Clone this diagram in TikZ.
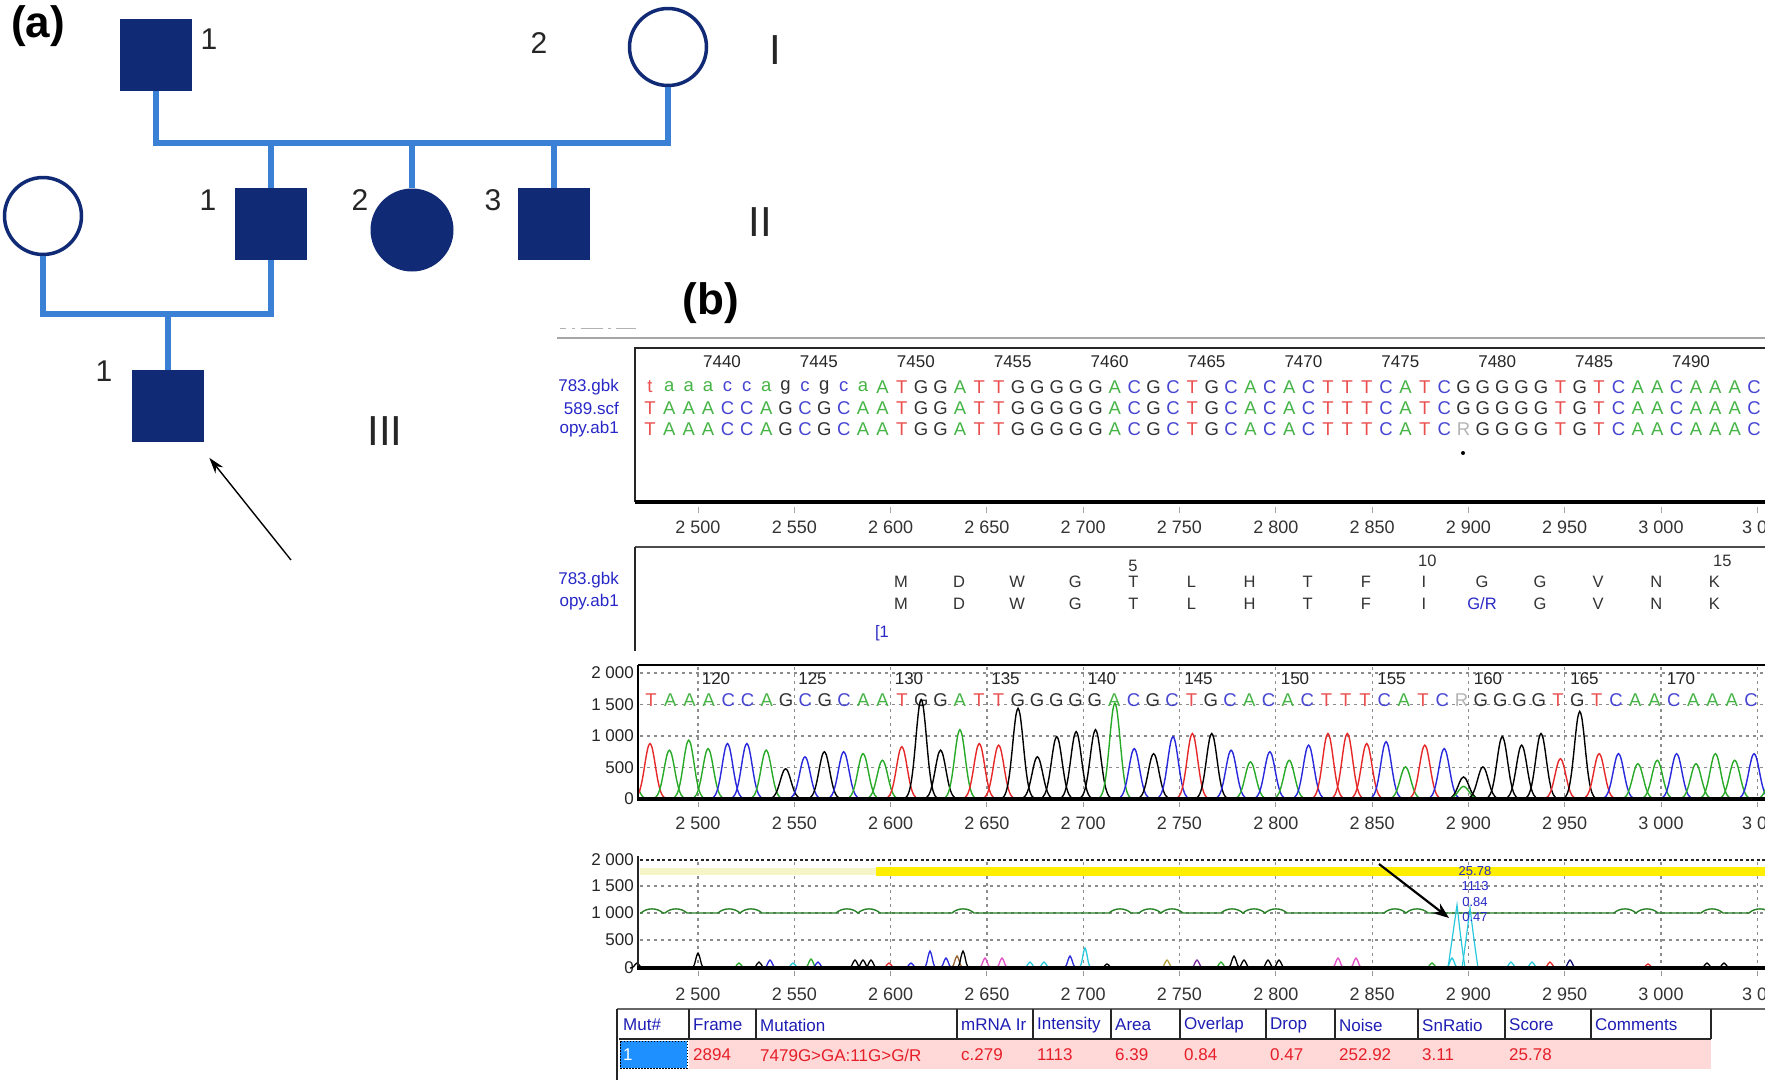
\documentclass[tikz,border=0pt]{standalone}
\usepackage{fontspec}
\setmainfont{Liberation Sans}
\usetikzlibrary{arrows.meta}
\definecolor{navy}{RGB}{16,42,118}
\definecolor{pedline}{RGB}{58,128,212}
\definecolor{col-A}{RGB}{70,180,70}
\colorlet{col-a}{col-A}
\definecolor{col-C}{RGB}{70,70,210}
\colorlet{col-c}{col-C}
\definecolor{col-G}{RGB}{50,50,50}
\colorlet{col-g}{col-G}
\definecolor{col-T}{RGB}{235,80,80}
\colorlet{col-t}{col-T}
\definecolor{col-R}{RGB}{180,180,180}
\definecolor{trA}{RGB}{40,170,40}
\definecolor{trC}{RGB}{40,40,220}
\definecolor{trG}{RGB}{0,0,0}
\definecolor{trT}{RGB}{230,40,40}
\definecolor{lblue}{RGB}{40,40,200}
\definecolor{hdrblue}{RGB}{30,30,180}
\definecolor{datared}{RGB}{230,30,40}
\definecolor{pinkrow}{RGB}{255,216,216}
\definecolor{selblue}{RGB}{30,144,255}
\definecolor{yelbar}{RGB}{255,238,0}
\definecolor{paleyel}{RGB}{245,245,200}
\definecolor{gline}{RGB}{40,130,40}
\definecolor{cyanp}{RGB}{40,200,220}
\definecolor{brn}{RGB}{150,100,50}
\definecolor{mag}{RGB}{225,80,200}
\definecolor{pur}{RGB}{120,40,160}
\definecolor{oliv}{RGB}{180,160,60}
\definecolor{nav}{RGB}{20,20,120}
\tikzset{
 sq/.style={rectangle, fill=navy, minimum size=72pt, inner sep=0},
 fcirc/.style={circle, fill=navy, minimum size=83pt, inner sep=0},
 ocirc/.style={circle, draw=navy, line width=3.5pt, fill=white, minimum size=77pt, inner sep=0},
 pline/.style={pedline, line width=6pt},
 pnum/.style={font=\fontsize{30}{30}\selectfont, text=black!85, inner sep=0},
 gen/.style={font=\fontsize{42}{42}\selectfont, text=black!85, inner sep=0},
 plabel/.style={font=\fontsize{44}{44}\selectfont\bfseries, inner sep=0},
 seq/.style={font=\fontsize{18.5}{18.5}\selectfont, inner sep=0},
 posn/.style={font=\fontsize{17}{17}\selectfont, inner sep=0, text=black!85},
 rowlab/.style={font=\fontsize{17}{17}\selectfont, inner sep=0, text=lblue, anchor=east},
 axlab/.style={font=\fontsize{18}{18}\selectfont, inner sep=0, text=black!80},
 aa/.style={font=\fontsize{16.5}{16.5}\selectfont, inner sep=0, text=black!80},
 ylab/.style={font=\fontsize{17}{17}\selectfont, inner sep=0, anchor=east, text=black!85},
 hdr/.style={font=\fontsize{17}{17}\selectfont, inner sep=0, anchor=west, text=hdrblue},
 dat/.style={font=\fontsize{17}{17}\selectfont, inner sep=0, anchor=west, text=datared},
 gridl/.style={black!45, line width=1.2pt, dash pattern=on 3pt off 4pt},
 val/.style={font=\fontsize{13}{13}\selectfont, inner sep=0, text=lblue},
}
\def\myseqA{t,a,a,a,c,c,a,g,c,g,c,a,A,T,G,G,A,T,T,G,G,G,G,G,A,C,G,C,T,G,C,A,C,A,C,T,T,T,C,A,T,C,G,G,G,G,G,T,G,T,C,A,A,C,A,A,A,C}
\def\myseqB{T,A,A,A,C,C,A,G,C,G,C,A,A,T,G,G,A,T,T,G,G,G,G,G,A,C,G,C,T,G,C,A,C,A,C,T,T,T,C,A,T,C,G,G,G,G,G,T,G,T,C,A,A,C,A,A,A,C}
\def\myseqC{T,A,A,A,C,C,A,G,C,G,C,A,A,T,G,G,A,T,T,G,G,G,G,G,A,C,G,C,T,G,C,A,C,A,C,T,T,T,C,A,T,C,R,G,G,G,G,T,G,T,C,A,A,C,A,A,A,C}
\def\mypeaks{-1/500/A,0/880/T,1/775/A,2/935/A,3/800/A,4/880/C,5/880/C,6/775/A,7/480/G,8/670/C,9/750/G,10/750/C,11/720/A,12/615/A,13/830/T,14/1580/G,15/775/G,16/1100/A,17/880/T,18/855/T,19/1440/G,20/670/G,21/990/G,22/1070/G,23/1100/G,24/1520/A,25/800/C,26/720/G,27/990/C,28/1040/T,29/1040/G,30/775/C,31/590/A,32/750/C,33/615/A,34/855/C,35/1040/T,36/1040/T,37/880/T,38/910/C,39/510/A,40/855/T,41/800/C,42/350/G,42/200/A,43/510/G,44/990/G,45/855/G,46/1040/G,47/640/T,48/1390/G,49/720/T,50/720/C,51/560/A,52/615/A,53/720/C,54/560/A,55/720/A,56/615/A,57/720/C,58/500/A}
\def\mynoise{637/5/black,698/15/black,739/5/trA,759/6/black,770/8/trC,793/5/cyanp,811/9/trA,818/6/trC,855/8/black,863/8/black,871/8/black,889/5/trT,911/5/trC,930/17/trC,946/10/trC,957/12/brn,963/17/black,985/10/mag,1002/10/mag,1030/6/cyanp,1044/6/cyanp,1070/12/trC,1085/20/cyanp,1107/4/black,1167/8/oliv,1197/8/pur,1221/6/trA,1234/12/black,1244/8/black,1268/8/black,1279/8/black,1338/10/mag,1356/10/mag,1432/5/trA,1452/10/cyanp,1511/6/cyanp,1532/6/cyanp,1550/6/trT,1570/8/nav,1648/4/trT,1707/5/black,1724/5/black}
\begin{document}
\begin{tikzpicture}[x=1pt,y=-1pt]
\useasboundingbox (0,0) rectangle (1765,1080);
\fill[white] (0,0) rectangle (1765,1080);
% ---------------- pedigree (a)
\node[sq] (I1) at (156,55) {};
\node[ocirc] (I2) at (668,47) {};
\node[sq] (II1) at (271,224) {};
\node[fcirc] (II2) at (412,230) {};
\node[sq] (II3) at (554,224) {};
\node[ocirc] (IIw) at (43,216) {};
\node[sq] (III1) at (168,406) {};
\coordinate (m1) at (411,143);
\coordinate (m2) at (168,314);
\draw[pline] (I1.south) |- (m1) -| (I2.south);
\foreach \n in {II1,II2,II3} \draw[pline] (\n.north |- m1) -- (\n.north);
\draw[pline] (IIw.south) |- (m2) -| (II1.south);
\draw[pline] (m2) -- (III1.north);
\coordinate (arrtail) at (291,560);
\draw[line width=1.4pt, -{Stealth[length=16pt,width=10pt]}, shorten >=20pt] (arrtail) -- (III1);
\node[pnum] (nI1) at (209,39) {1};
\node[pnum] (nI2) at (539,43) {2};
\node[gen] (gI) at (775,50) {I};
\node[pnum] (nII1) at (208,200) {1};
\node[pnum] (nII2) at (360,200) {2};
\node[pnum] (nII3) at (493,200) {3};
\node[gen] (gII) at (760,222) {II};
\node[pnum] (nIII1) at (104,371) {1};
\node[gen] (gIII) at (385,431) {III};
\node[plabel] (la) at (38,26) {(a)};
\node[plabel] (lb) at (711,303) {(b)};
% ---------------- panel (b) header lines
\draw[black!30, line width=1pt] (560,328) -- (566,328) (572,328) -- (575,328) (581,328) -- (603,328) (608,328) -- (611,328) (616,328) -- (636,328);
\draw[black!35, line width=1.8pt] (557,338) -- (1765,338);
% ---------------- panel 1: alignment
\draw[black!85, line width=1.8pt] (1765,348) -- (635,348) -- (635,502);
\draw[black, line width=3.5pt] (635,502) -- (1765,502);
\foreach \k [evaluate=\k as \v using {int(7440+5*\k)}] in {0,...,10}
  \node[posn] at ({722+96.9*\k},362) {\v};
\node[rowlab] (r1) at (619,387) {783.gbk};
\node[rowlab] (r2) at (619,408) {589.scf};
\node[rowlab] (r3) at (619,429) {opy.ab1};
\foreach \c [count=\i from 0] in \myseqA \node[seq, text=col-\c] at ({650+19.37*\i},387) {\c};
\foreach \c [count=\i from 0] in \myseqB \node[seq, text=col-\c] at ({650+19.37*\i},408) {\c};
\foreach \c [count=\i from 0] in \myseqC \node[seq, text=col-\c] at ({650+19.37*\i},429) {\c};
\fill[black] (1463,453) circle (2pt);
\foreach \k in {0,...,11} \draw[black!35, line width=1pt] ({698+96.3*\k},507) -- ++(0,6);
\foreach \t [count=\k from 0] in {2 500,2 550,2 600,2 650,2 700,2 750,2 800,2 850,2 900,2 950,3 000}
  \node[axlab] at ({698+96.3*\k},527) {\t};
\node[axlab, anchor=west] at (1742,527) {3 0};
% ---------------- panel 2: protein
\draw[black!70, line width=2.5pt] (635,547) -- (1765,547);
\draw[black!85, line width=1.8pt] (635,547) -- (635,651);
\node[rowlab] (p1) at (619,580) {783.gbk};
\node[rowlab] (p2) at (619,602) {opy.ab1};
\foreach \a [count=\i from 0] in {M,D,W,G,T,L,H,T,F,I,G,G,V,N,K}
  \node[aa] at ({901+58.1*\i},582) {\a};
\foreach \a [count=\i from 0] in {M,D,W,G,T,L,H,T,F,I,{},G,V,N,K}
  \node[aa] at ({901+58.1*\i},604) {\a};
\node[aa, text=lblue] at (1482,604) {G/R};
\node[aa] at (1133,566) {5};
\node[aa, anchor=west] at (1418,561) {10};
\node[aa, anchor=west] at (1713,561) {15};
\node[aa, text=lblue] at (882,633) {[1};
% ---------------- panel 3: chromatogram
\foreach \yy in {673,704.5,736,767.5} \draw[gridl] (640,\yy) -- (1765,\yy);
\foreach \k in {0,...,11} \draw[gridl] ({698+96.3*\k},667) -- ({698+96.3*\k},798);
\foreach \t/\yy in {2 000/673,1 500/704.5,1 000/736,500/767.5,0/799} \node[ylab] at (634,\yy) {\t};
\foreach \k [evaluate=\k as \v using {int(120+5*\k)}] in {0,...,10}
  \node[posn] at ({716+96.5*\k},679) {\v};
\foreach \c [count=\i from 0] in \myseqC \node[seq, text=col-\c] at ({651+19.3*\i},700) {\c};
\begin{scope}
\clip (639,660) rectangle (1765,800);
\foreach \i/\h/\c in \mypeaks
  \draw[color=tr\c, line width=1.4pt] plot[smooth, domain=-16:16, samples=17] ({650+19.37*\i+\x},{799-\h*0.063*exp(-((\x)/7.5)*((\x)/7.5))});
\end{scope}
\draw[black, line width=1.8pt] (638,665) -- (1765,665);
\draw[black, line width=1.8pt] (638,665) -- (638,800);
\draw[black, line width=3.5pt] (637,799) -- (1765,799);
\foreach \k in {0,...,11} \draw[black!40, line width=1pt] ({698+96.3*\k},802) -- ++(0,5);
\foreach \t [count=\k from 0] in {2 500,2 550,2 600,2 650,2 700,2 750,2 800,2 850,2 900,2 950,3 000}
  \node[axlab] at ({698+96.3*\k},823) {\t};
\node[axlab, anchor=west] at (1742,823) {3 0};
% ---------------- panel 4: mutation analysis
\foreach \yy in {886,913,940} \draw[gridl] (640,\yy) -- (1765,\yy);
\foreach \k in {0,...,11} \draw[gridl] ({698+96.3*\k},862) -- ({698+96.3*\k},966);
\draw[black!85, line width=2pt, dash pattern=on 3pt off 2.5pt] (640,860) -- (1765,860);
\fill[paleyel] (640,868) rectangle (876,875);
\fill[yelbar] (876,867) rectangle (1765,876);
\draw[gline, line width=1.4pt] (640,913)
  \foreach \c in {652,676,729,751,847,869,963,1120,1150,1172,1232,1254,1276,1395,1417,1625,1647,1712,1760} {
    -- (\c-11,913) .. controls (\c-5,907.5) and (\c+5,907.5) .. (\c+11,913) } ;
\foreach \t/\yy in {2 000/860,1 500/886,1 000/913,500/940,0/968} \node[ylab] at (634,\yy) {\t};
\foreach \xx/\h/\c in \mynoise
  \draw[color=\c, line width=1.3pt] plot[smooth, domain=-7:7, samples=9] ({\xx+\x},{968-\h*exp(-((\x)/3)*((\x)/3))});
\draw[cyanp, line width=1.2pt] (1448,968) .. controls (1452,940) .. (1457,905) .. controls (1461,940) .. (1465,968);
\draw[cyanp, line width=1.2pt] (1462,968) .. controls (1466,940) .. (1470,908) .. controls (1474,940) .. (1478,968);
\node[val] (v1) at (1475,871) {25.78};
\node[val] (v2) at (1475,886) {1113};
\node[val] (v3) at (1475,902) {0.84};
\node[val] (v4) at (1475,917) {0.47};
\coordinate (atail) at (1379,864);
\coordinate (ahead) at (1449,918);
\draw[black, line width=2.2pt, -{Stealth[length=16pt,width=12pt]}] (atail) -- (ahead);
\draw[black!85, line width=1.8pt] (638,856) -- (638,969);
\draw[black, line width=3.5pt] (637,968) -- (1765,968);
\foreach \k in {0,...,11} \draw[black!40, line width=1pt] ({698+96.3*\k},971) -- ++(0,5);
\foreach \t [count=\k from 0] in {2 500,2 550,2 600,2 650,2 700,2 750,2 800,2 850,2 900,2 950,3 000}
  \node[axlab] at ({698+96.3*\k},994) {\t};
\node[axlab, anchor=west] at (1742,994) {3 0};
% ---------------- table
\fill[pinkrow] (689,1040) rectangle (1711,1069);
\fill[selblue] (620,1041) rectangle (687,1068);
\draw[black, line width=1pt, dash pattern=on 1.5pt off 1.5pt] (620,1041) rectangle (687,1068);
\draw[black!60, line width=1.5pt] (617,1009) -- (1765,1009);
\draw[black!85, line width=1.5pt] (619,1039) -- (1711,1039);
\draw[black!85, line width=2pt] (617,1009) -- (617,1080);
\foreach \e in {689,756,957,1033,1111,1180,1266,1335,1418,1505,1591,1711}
  \draw[black!85, line width=1.5pt] (\e,1009) -- (\e,1039);
\foreach \t/\e in {Mut\#/619,Frame/689,Mutation/756,mRNA Ir/957,Intensity/1033,Area/1111,Overlap/1180,Drop/1266,Noise/1335,SnRatio/1418,Score/1505,Comments/1591}
  \node[hdr] at (\e+4,1025) {\t};
\node[dat, text=white] at (623,1055) {1};
\foreach \t/\e in {2894/689,{7479G>GA:11G>G/R}/756,c.279/957,1113/1033,6.39/1111,0.84/1180,0.47/1266,252.92/1335,3.11/1418,25.78/1505}
  \node[dat] at (\e+4,1055) {\t};
\end{tikzpicture}
\end{document}
